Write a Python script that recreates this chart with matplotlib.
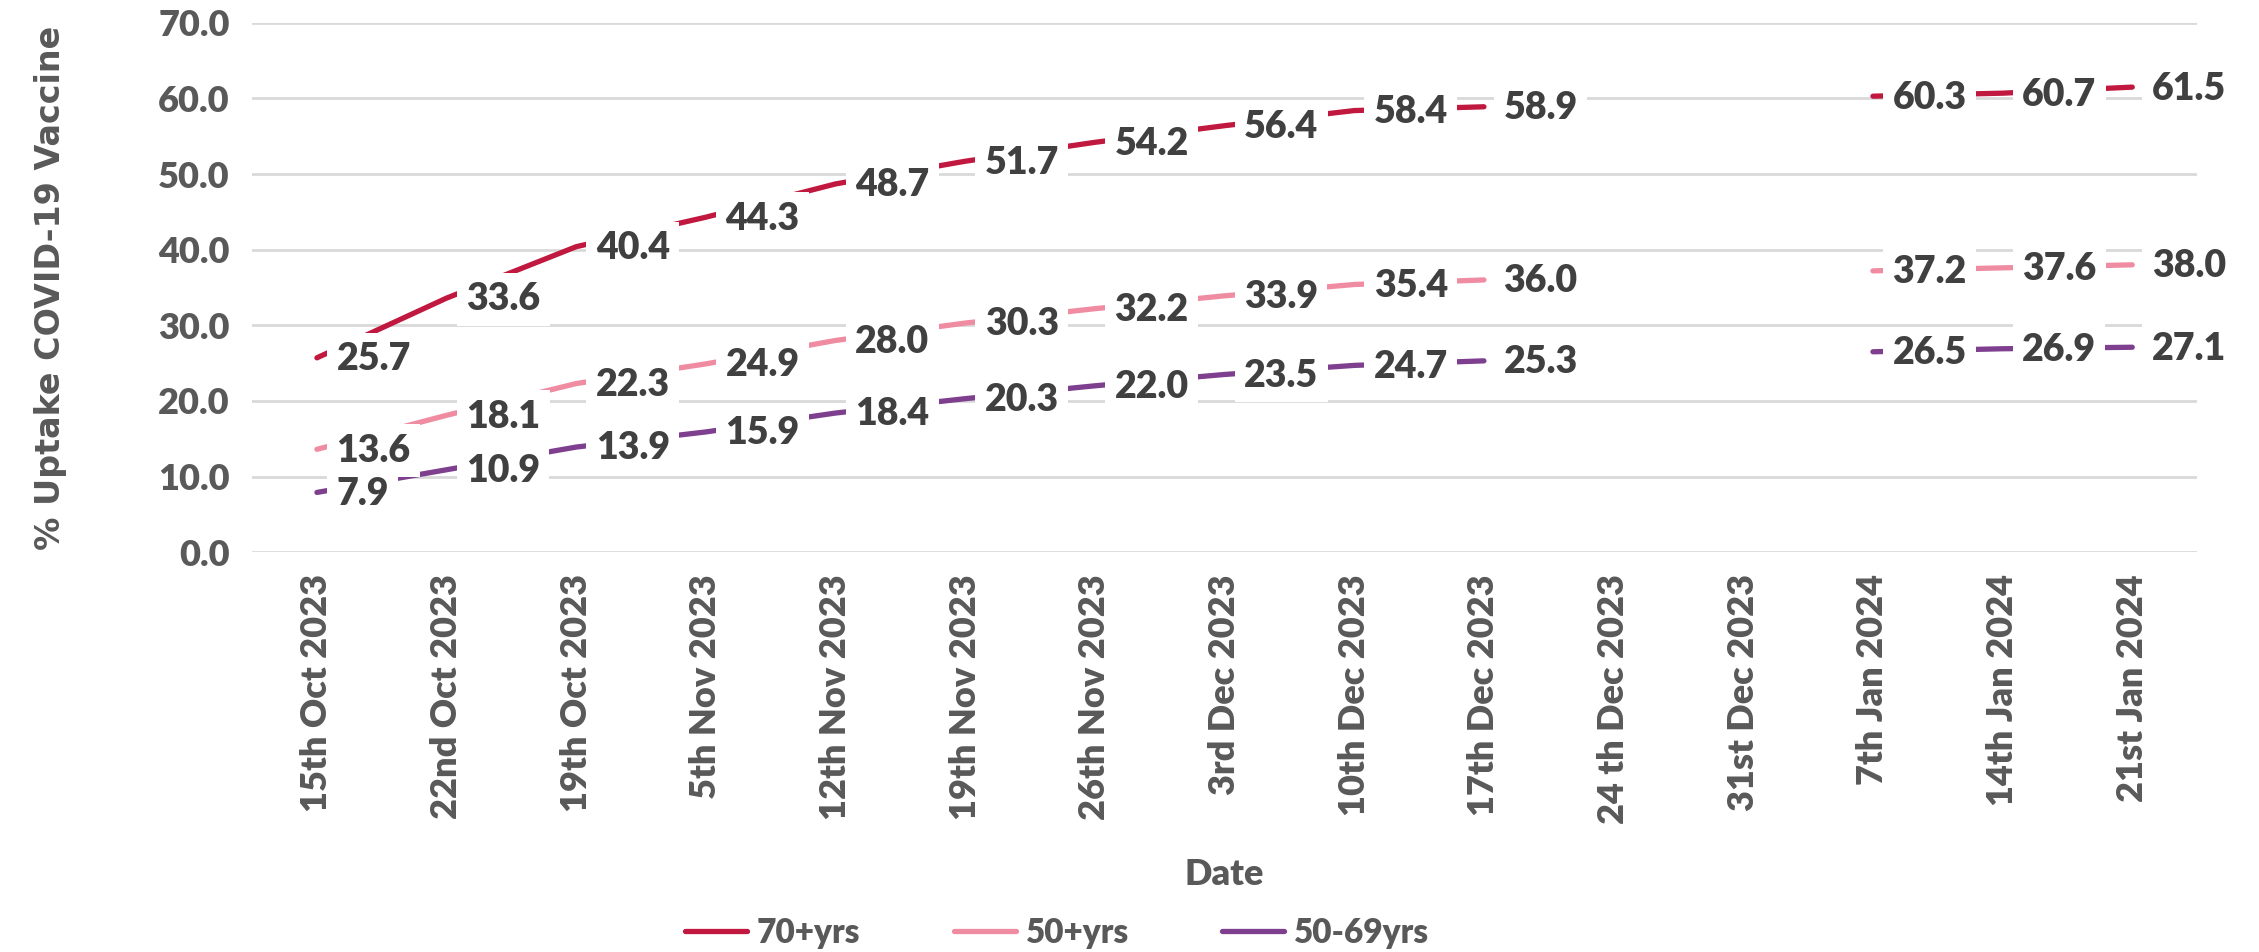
import matplotlib.pyplot as plt
import numpy as np

plt.rcParams['font.family'] = ['Lato', 'DejaVu Sans']
plt.rcParams['font.weight'] = 'bold'

# dates (24th Dec and 31st Dec have no data)
dates = ["15th Oct 2023", "22nd Oct 2023", "19th Oct 2023", "5th Nov 2023",
         "12th Nov 2023", "19th Nov 2023", "26th Nov 2023", "3rd Dec 2023",
         "10th Dec 2023", "17th Dec 2023", "24 th Dec 2023", "31st Dec 2023",
         "7th Jan 2024", "14th Jan 2024", "21st Jan 2024"]

uptake_70 = [25.7, 33.6, 40.4, 44.3, 48.7, 51.7, 54.2, 56.4, 58.4, 58.9,
             np.nan, np.nan, 60.3, 60.7, 61.5]
uptake_50 = [13.6, 18.1, 22.3, 24.9, 28.0, 30.3, 32.2, 33.9, 35.4, 36.0,
             np.nan, np.nan, 37.2, 37.6, 38.0]
uptake_50_69 = [7.9, 10.9, 13.9, 15.9, 18.4, 20.3, 22.0, 23.5, 24.7, 25.3,
                np.nan, np.nan, 26.5, 26.9, 27.1]

series = [("70+yrs", uptake_70, "#C0183F"),
          ("50+yrs", uptake_50, "#F08CA2"),
          ("50-69yrs", uptake_50_69, "#7F3F8F")]

axis_grey = "#595959"
label_grey = "#404040"

fig = plt.figure(figsize=(22.59, 9.52), dpi=100)
ax = fig.add_axes([0.1116, 0.42, 0.861, 0.556])

x = np.arange(len(dates))

for name, vals, col in series:
    ax.plot(x, vals, color=col, lw=3.8, solid_capstyle='round', label=name, zorder=3)
    for xi, v in zip(x, vals):
        if np.isnan(v):
            continue
        ax.annotate(f"{v:.1f}", (xi, v), xytext=(14, -1), textcoords='offset points',
                    ha='left', va='center', fontsize=27, fontweight='heavy',
                    color=label_grey, zorder=5,
                    bbox=dict(boxstyle='square,pad=0.25', fc='white', ec='none'))

ax.set_xlim(-0.5, len(dates) - 0.5)
ax.set_ylim(0, 70)
ax.set_yticks(np.arange(0, 71, 10))
ax.set_yticklabels([f"{t:.1f}" for t in np.arange(0, 71, 10)])
ax.set_xticks(x)
ax.set_xticklabels(dates, rotation=90)

ax.grid(axis='y', color='#D9D9D9', lw=2, zorder=0)
ax.set_axisbelow(True)
for s in ax.spines.values():
    s.set_visible(False)
ax.tick_params(axis='both', length=0, labelsize=26, labelcolor=axis_grey, pad=16)
for t in ax.get_xticklabels() + ax.get_yticklabels():
    t.set_fontweight('heavy')

ax.set_ylabel("% Uptake COVID-19 Vaccine", fontsize=24, fontweight='bold',
              color=axis_grey, labelpad=66, family='DejaVu Sans')
ax.set_xlabel("Date", fontsize=26, fontweight='heavy', color=axis_grey, labelpad=24)

handles, labels = ax.get_legend_handles_labels()
leg = fig.legend(handles, labels, loc='center', bbox_to_anchor=(0.468, 0.02), ncol=3,
                 frameon=False, fontsize=24, handlelength=1.85, columnspacing=2.8,
                 handletextpad=0.3, borderaxespad=0)
for t in leg.get_texts():
    t.set_color(axis_grey)
    t.set_fontweight('heavy')

fig.savefig("out.png", dpi=100)
